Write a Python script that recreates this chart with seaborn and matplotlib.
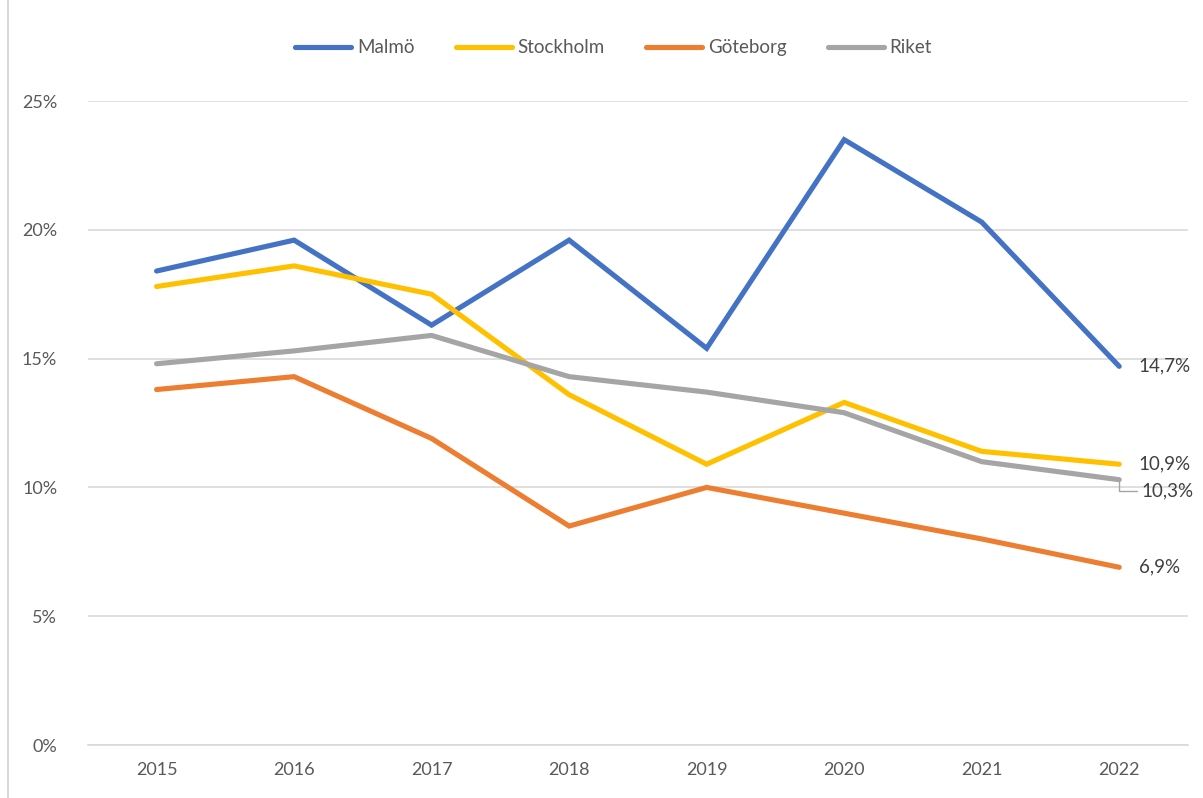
import matplotlib
matplotlib.use("Agg")
import matplotlib.pyplot as plt
import matplotlib.lines as mlines
import seaborn as sns
import pandas as pd

years = ["2015", "2016", "2017", "2018", "2019", "2020", "2021", "2022"]
malmo = [18.4, 19.6, 16.3, 19.6, 15.4, 23.5, 20.3, 14.7]
stockholm = [17.8, 18.6, 17.5, 13.6, 10.9, 13.3, 11.4, 10.9]
goteborg = [13.8, 14.3, 11.9, 8.5, 10.0, 9.0, 8.0, 6.9]
riket = [14.8, 15.3, 15.9, 14.3, 13.7, 12.9, 11.0, 10.3]
series_names = ["Malmö", "Stockholm", "Göteborg", "Riket"]
colors = ["#4472C4", "#FFC000", "#ED7D31", "#A5A5A5"]
yticks = [0, 5, 10, 15, 20, 25]
ytick_labels = ["0%", "5%", "10%", "15%", "20%", "25%"]

sns.set_theme(style="white")
plt.rcParams["font.family"] = ["Lato", "DejaVu Sans"]

rows = []
for name, vals in zip(series_names, [malmo, stockholm, goteborg, riket]):
    for i, (y, v) in enumerate(zip(years, vals)):
        rows.append({"idx": i, "year": y, "serie": name, "value": v})
df = pd.DataFrame(rows)

fig = plt.figure(figsize=(12.03, 7.98), dpi=100)
ax = fig.add_axes([0.073, 0.0664, 0.9145, 0.807])

sns.lineplot(data=df, x="idx", y="value", hue="serie", hue_order=series_names,
             palette=colors, linewidth=3.7, ax=ax, legend=False,
             solid_capstyle="round", solid_joinstyle="miter")

ax.set_xlim(-0.5, len(years) - 0.5)
ax.set_ylim(0, 25)
ax.set_xticks(range(len(years)))
ax.set_xticklabels(years)
ax.set_yticks(yticks)
ax.set_yticklabels(ytick_labels)
ax.set_xlabel("")
ax.set_ylabel("")
ax.grid(axis="y", color="#D9D9D9", linewidth=1.2)
ax.set_axisbelow(True)
for s in ["top", "right", "left"]:
    ax.spines[s].set_visible(False)
ax.spines["bottom"].set_color("#D9D9D9")
ax.spines["bottom"].set_linewidth(1.2)
ax.tick_params(axis="both", colors="#595959", labelsize=13, length=0, pad=12)
ax.tick_params(axis="y", pad=22)

# end labels
last = len(years) - 1
for name, vals in zip(series_names, [malmo, stockholm, goteborg, riket]):
    v = vals[-1]
    lbl = f"{v:.1f}%".replace(".", ",")
    if name == "Riket":
        ax.annotate(lbl, xy=(last, v), xytext=(16, -8), textcoords="offset points",
                    fontsize=13.5, color="#404040", va="center", ha="left",
                    arrowprops=dict(arrowstyle="-", color="#A5A5A5", lw=1,
                                    connectionstyle="angle,angleA=0,angleB=90",
                                    relpos=(0, 0.5), shrinkA=1, shrinkB=2))
    else:
        ax.annotate(lbl, xy=(last, v), xytext=(14, 0), textcoords="offset points",
                    fontsize=13.5, color="#404040", va="center", ha="left")

handles = [mlines.Line2D([], [], color=c, lw=3.7, solid_capstyle="round") for c in colors]
fig.legend(handles, series_names, loc="center", bbox_to_anchor=(0.51, 0.94), ncol=4,
           frameon=False, fontsize=13.5, labelcolor="#595959", handlelength=3.0,
           handletextpad=0.3, columnspacing=2.2)

fig.add_artist(mlines.Line2D([8 / 1203, 8 / 1203], [0, 1], color="#D9D9D9", lw=1.5,
                             transform=fig.transFigure))

fig.savefig("out.png", dpi=100, facecolor="white")
